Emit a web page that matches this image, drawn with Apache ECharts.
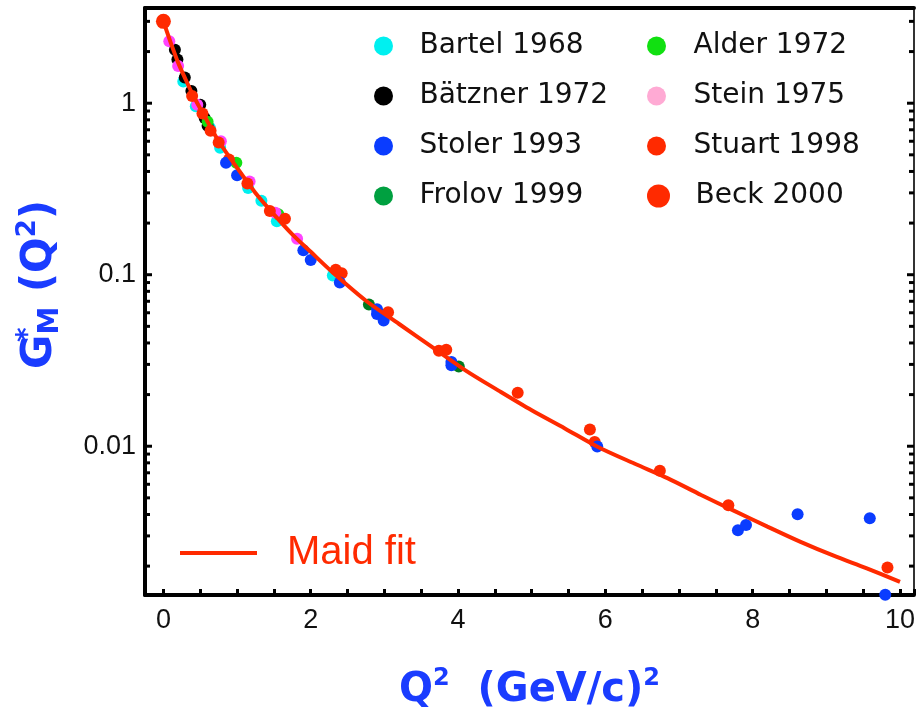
<!DOCTYPE html>
<html>
<head>
<meta charset="utf-8">
<script src="https://cdn.jsdelivr.net/npm/echarts@6/dist/echarts.min.js"></script>
<style>
html,body{margin:0;padding:0;background:#fff;}
#main{width:918px;height:716px;}
</style>
</head>
<body>
<div id="main"></div>
<script>
// data: [Q2, G*M]
var bartel=[[0.27,1.34],[0.44,0.96],[0.63,0.72],[0.77,0.55],[1.15,0.32],[1.33,0.27],[1.54,0.205],[2.30,0.099]];
var batzner=[[0.156,2.05],[0.19,1.80],[0.29,1.41],[0.38,1.18],[0.50,0.98],[0.56,0.82],[0.60,0.74]];
var alder=[[0.60,0.78],[0.99,0.45],[1.56,0.225]];
var stein=[[0.08,2.30],[0.20,1.65],[0.46,0.98],[0.78,0.60],[1.17,0.35],[1.52,0.23],[1.815,0.162]];
var frolov=[[2.79,0.067],[4.01,0.0292]];
var stuart=[[0.39,1.10],[0.53,0.87],[0.64,0.69],[0.75,0.59],[0.89,0.47],[1.14,0.34],[1.445,0.235],[1.65,0.212],
	[2.34,0.107],[2.42,0.102],[3.05,0.0605],[3.74,0.036],[3.84,0.0365],[4.81,0.0205],[5.79,0.0125],[5.855,0.0106],
	[6.74,0.0072],[7.67,0.00453],[9.83,0.00196]];
var stoler=[[0.85,0.45],[1.0,0.38],[1.90,0.139],[2.0,0.122],[2.395,0.090],[2.90,0.063],[2.90,0.059],[2.99,0.054],
	[3.91,0.031],[3.91,0.0297],[5.89,0.00996],[7.80,0.00324],[7.91,0.00347],[8.61,0.00401],[9.59,0.0038],[9.80,0.00136]];
var beck=[[0,3.0]];

// Maid fit curve
var maidQ2=[0,0.1,0.2,0.3,0.4,0.5,0.6,0.75,1.0,1.25,1.5,1.75,2.0,2.3,2.75,3.2,3.65,4.1,4.55,5.0,5.45,5.9,6.4,6.85,7.3,7.75,8.2,8.65,9.1,9.55,10.0];
var maidG=[3.0,2.25,1.72,1.38,1.12,0.93,0.78,0.60,0.42,0.30,0.225,0.172,0.136,0.103,0.0705,0.0516,0.0378,0.0277,0.0211,0.0162,0.0127,0.0099,0.0079,0.0065,0.0052,0.0042,0.0034,0.00277,0.0023,0.00194,0.00162];

// axis
var xMin=-0.25, xMax=10.19;
var yMin=0.001357, yMax=3.59;
var yMajorTicks=[0.01,0.1,1];
var yMinorTicks=[0.002,0.003,0.004,0.005,0.006,0.007,0.008,0.009,
	0.02,0.03,0.04,0.05,0.06,0.07,0.08,0.09,
	0.2,0.3,0.4,0.5,0.6,0.7,0.8,0.9,2,3];

var blue='#1a3cff';
var red='#ff2a00';

var maidData=[];
for(var i=0;i<maidQ2.length;i++){
	maidData.push([maidQ2[i],maidG[i]]);
}

function tickRender(len){
	return function(params,api){
		var cs=params.coordSys;
		var y=api.coord([xMin,api.value(1)])[1];
		return {type:'group',children:[
			{type:'line',shape:{x1:cs.x,y1:y,x2:cs.x+len,y2:y},style:{stroke:'#000',lineWidth:3}},
			{type:'line',shape:{x1:cs.x+cs.width,y1:y,x2:cs.x+cs.width-len,y2:y},style:{stroke:'#000',lineWidth:3}}
		]};
	};
}
function tickData(arr){
	var out=[];
	for(var i=0;i<arr.length;i++) out.push([0,arr[i]]);
	return out;
}

function scatter(name,data,color,size){
	return {name:name,type:'scatter',data:data,symbolSize:size||12,clip:false,
		itemStyle:{color:color,opacity:1},emphasis:{disabled:true}};
}

var legendText={fontFamily:'DejaVu Sans',fontSize:28,lineHeight:30,color:'#111'};

var myChart=echarts.init(document.getElementById('main'));
var option={
	animation:false,
	backgroundColor:'#fff',
	grid:{left:145,right:2,top:8,bottom:119},
	xAxis:[{
		type:'value',min:xMin,max:xMax,
		axisLine:{onZero:false,lineStyle:{color:'#000',width:4}},
		axisTick:{show:true,inside:true,length:6,lineStyle:{color:'#000',width:3}},
		minorTick:{show:true,splitNumber:4,length:6,lineStyle:{color:'#000',width:3}},
		splitLine:{show:false},
		axisLabel:{margin:12,fontFamily:'Liberation Sans',fontSize:27,color:'#111',
			formatter:function(v){return Math.abs(v-Math.round(v))<1e-6?String(Math.round(v)):'';}},
		name:'{q|Q}{s|2}{p|  (GeV/c)}{s|2}',
		nameLocation:'middle',nameGap:72,
		nameTextStyle:{color:blue,fontFamily:'DejaVu Sans',fontWeight:'bold',fontSize:40,
			rich:{
				q:{color:blue,fontFamily:'DejaVu Sans',fontWeight:'bold',fontSize:40,lineHeight:48},
				p:{color:blue,fontFamily:'DejaVu Sans',fontWeight:'bold',fontSize:40,lineHeight:48},
				s:{color:blue,fontFamily:'DejaVu Sans',fontWeight:'bold',fontSize:24,lineHeight:24,verticalAlign:'top'}
			}}
	},{
		type:'value',position:'top',min:xMin,max:xMax,
		axisLine:{show:true,onZero:false,lineStyle:{color:'#000',width:4}},
		axisTick:{show:false},axisLabel:{show:false},splitLine:{show:false}
	}],
	yAxis:[{
		type:'log',logBase:10,min:yMin,max:yMax,
		axisLine:{show:true,onZero:false,lineStyle:{color:'#000',width:4}},
		axisTick:{show:false},
		splitLine:{show:false},
		axisLabel:{margin:9,fontFamily:'Liberation Sans',fontSize:27,color:'#111',
			formatter:function(v){
				var l=Math.log10(v);
				if(Math.abs(l-Math.round(l))>1e-6) return '';
				return String(+v.toPrecision(3));
			}},
		name:'{g|G}{st|*}{m|M}{g| (Q}{s|2}{g|)}',
		nameLocation:'middle',nameRotate:90,nameGap:80,
		nameTextStyle:{color:blue,fontFamily:'DejaVu Sans',fontWeight:'bold',fontSize:42,padding:[0,0,0,34],
			rich:{
				g:{color:blue,fontFamily:'DejaVu Sans',fontWeight:'bold',fontSize:42,lineHeight:50},
				st:{color:blue,fontFamily:'DejaVu Sans',fontWeight:'bold',fontSize:28,lineHeight:28,verticalAlign:'top',width:0},
				m:{color:blue,fontFamily:'DejaVu Sans',fontWeight:'bold',fontSize:28,lineHeight:28,verticalAlign:'bottom'},
				s:{color:blue,fontFamily:'DejaVu Sans',fontWeight:'bold',fontSize:26,lineHeight:26,verticalAlign:'top'}
			}}
	},{
		type:'log',logBase:10,min:yMin,max:yMax,position:'right',
		axisLine:{show:true,onZero:false,lineStyle:{color:'#333',width:2}},
		axisTick:{show:false},axisLabel:{show:false},splitLine:{show:false}
	}],
	legend:[{
		orient:'vertical',left:374,top:31,padding:0,itemWidth:62,itemHeight:19,itemGap:20,icon:'circle',
		selectedMode:false,textStyle:legendText,
		data:['Bartel 1968','Bätzner 1972','Stoler 1993',{name:'Frolov 1999',itemStyle:{color:'#00a040'}}]
	},{
		orient:'vertical',left:647,top:31,padding:0,itemWidth:64,itemHeight:19,itemGap:20,icon:'circle',
		selectedMode:false,textStyle:legendText,
		data:['Alder 1972',{name:'Stein 1975',itemStyle:{color:'#ffaad4'}},'Stuart 1998']
	},{
		orient:'vertical',left:647,top:181,padding:0,itemWidth:64,itemHeight:23,itemGap:20,icon:'circle',
		selectedMode:false,textStyle:legendText,
		data:['Beck 2000']
	},{
		orient:'vertical',left:180,top:531,padding:0,itemWidth:77,itemHeight:4,
		icon:'path://M0,0H77V4H0Z',
		selectedMode:false,itemStyle:{color:red},
		textStyle:{fontFamily:'Liberation Sans',fontSize:40,lineHeight:44,color:red,padding:[0,0,0,25]},
		data:['Maid fit']
	}],
	series:[
		{type:'custom',name:'minorTicks',renderItem:tickRender(5),data:tickData(yMinorTicks),silent:true,z:3},
		{type:'custom',name:'majorTicks',renderItem:tickRender(7),data:tickData(yMajorTicks),silent:true,z:3},
		{name:'Maid fit',type:'line',data:maidData,symbol:'none',smooth:0.3,
			lineStyle:{color:red,width:4},itemStyle:{color:red},emphasis:{disabled:true}},
		scatter('Bartel 1968',bartel,'#00f0f0'),
		scatter('Bätzner 1972',batzner,'#000000'),
		scatter('Alder 1972',alder,'#11e011'),
		scatter('Stein 1975',stein,'#ff44ff'),
		scatter('Frolov 1999',frolov,'#007a1e'),
		scatter('Stuart 1998',stuart,red),
		scatter('Stoler 1993',stoler,'#0a3cff'),
		scatter('Beck 2000',beck,red,15)
	]
};
myChart.setOption(option);
</script>
</body>
</html>
